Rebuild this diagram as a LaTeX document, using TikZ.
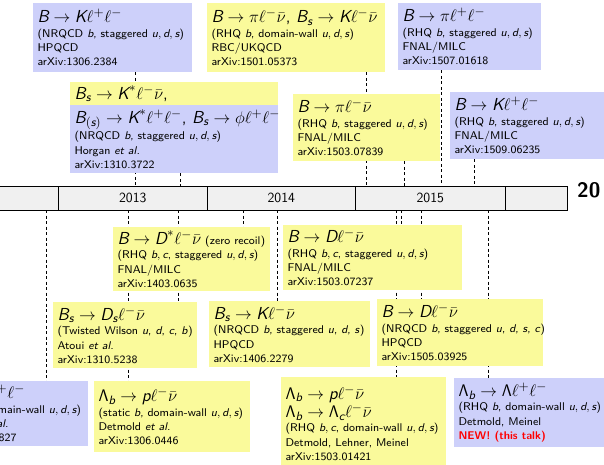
\documentclass[tikz,border=0pt]{standalone}
\usepackage{amsmath}
\usetikzlibrary{backgrounds}
\definecolor{boxblue}{RGB}{205,208,250}
\definecolor{boxyel}{RGB}{250,250,155}
\definecolor{barfill}{RGB}{240,240,240}
\newcommand{\Mi}[1]{\text{\normalfont\sffamily\itshape #1}}
\newcommand{\Tf}{\fontsize{12.4}{14}\selectfont}
\newcommand{\Lam}{\mathsf{\Lambda}}
% box: style, name, x, y, width, height, text
\newcommand{\bx}[7]{%
  \node[#1, minimum width=#5pt, minimum height=#6pt] (#2) at (#3,#4) {};
  \node[txt] (#2t) at ([xshift=4.3pt]#2.west) {#7};}
\begin{document}
\begin{tikzpicture}[x=1pt,y=-1pt,
  box/.style={anchor=north west, inner sep=0pt},
  ybox/.style={box, fill=boxyel},
  bbox/.style={box, fill=boxblue},
  txt/.style={anchor=west, align=left, inner sep=0pt, scale=1.4, transform shape, font=\sffamily\fontsize{8}{10.2}\selectfont},
  yr/.style={anchor=north west, draw=black, line width=0.5pt, fill=barfill, minimum height=24pt, inner sep=0pt, font=\sffamily\fontsize{14}{16}\selectfont},
  tl/.style={draw=black, line width=0.5pt, dash pattern=on 3pt off 2.5pt},
]
\clip (0,0) rectangle (604,465);

% top boxes
\bx{bbox}{box1}{33}{3}{159}{69}
 {{\Tf $\Mi{B}\to\Mi{K}\ell^+\ell^-$}\\(NRQCD \textit{b}, staggered $\Mi{u},\Mi{d},\Mi{s}$)\\HPQCD\\arXiv:1306.2384}
\bx{ybox}{box2}{207}{3}{178}{69}
 {{\Tf $\Mi{B}\to\pi\ell^-\bar\nu$, $\Mi{B}_{\Mi{s}}\to\Mi{K}\ell^-\bar\nu$}\\(RHQ \textit{b}, domain-wall $\Mi{u},\Mi{d},\Mi{s}$)\\RBC/UKQCD\\arXiv:1501.05373}
\bx{bbox}{box3}{398}{3}{143}{67}
 {{\Tf $\Mi{B}\to\pi\ell^+\ell^-$}\\(RHQ \textit{b}, staggered $\Mi{u},\Mi{d},\Mi{s}$)\\FNAL/MILC\\arXiv:1507.01618}
\bx{ybox}{box4a}{70}{82}{208}{23}
 {{\Tf $\Mi{B}_{\Mi{s}}\to\Mi{K}^*\ell^-\bar\nu$,}}
\bx{bbox}{box4b}{70}{105}{208}{68}
 {{\Tf $\Mi{B}_{(\Mi{s})}\to\Mi{K}^*\ell^+\ell^-$, $\Mi{B}_{\Mi{s}}\to\phi\ell^+\ell^-$}\\(NRQCD \textit{b}, staggered $\Mi{u},\Mi{d},\Mi{s}$)\\Horgan \textit{et al.}\\arXiv:1310.3722}
\bx{ybox}{box5}{293}{94}{147}{67}
 {{\Tf $\Mi{B}\to\pi\ell^-\bar\nu$}\\(RHQ \textit{b}, staggered $\Mi{u},\Mi{d},\Mi{s}$)\\FNAL/MILC\\arXiv:1503.07839}
\bx{bbox}{box6}{450}{92}{160}{67}
 {{\Tf $\Mi{B}\to\Mi{K}\ell^+\ell^-$}\\(RHQ \textit{b}, staggered $\Mi{u},\Mi{d},\Mi{s}$)\\FNAL/MILC\\arXiv:1509.06235}

% timeline bar
\node[yr, minimum width=64pt] (y12) at (-6,186) {};
\node[yr, minimum width=149pt] (y13) at (58,186) {2013};
\node[yr, minimum width=148pt] (y14) at (207,186) {2014};
\node[yr, minimum width=150pt] (y15) at (355,186) {2015};
\node[yr, minimum width=62pt] (y16) at (505,186) {};
\node[anchor=west, inner sep=0pt, font=\sffamily\bfseries\fontsize{21}{24}\selectfont] (big) at (577,190) {20};

% bottom boxes
\bx{ybox}{b1}{113}{227}{157}{64}
 {{\Tf $\Mi{B}\to\Mi{D}^*\ell^-\bar\nu$} (zero recoil)\\(RHQ $\Mi{b},\Mi{c}$, staggered $\Mi{u},\Mi{d},\Mi{s}$)\\FNAL/MILC\\arXiv:1403.0635}
\bx{ybox}{b2}{283}{225}{179}{65}
 {{\Tf $\Mi{B}\to\Mi{D}\ell^-\bar\nu$}\\(RHQ $\Mi{b},\Mi{c}$, staggered $\Mi{u},\Mi{d},\Mi{s}$)\\FNAL/MILC\\arXiv:1503.07237}
\bx{ybox}{c1}{53}{302}{144}{66}
 {{\Tf $\Mi{B}_{\Mi{s}}\to\Mi{D}_{\Mi{s}}\ell^-\bar\nu$}\\(Twisted Wilson \textit{u}, \textit{d}, \textit{c}, \textit{b})\\Atoui \textit{et al.}\\arXiv:1310.5238}
\bx{ybox}{c2}{209}{301}{161}{66}
 {{\Tf $\Mi{B}_{\Mi{s}}\to\Mi{K}\ell^-\bar\nu$}\\(NRQCD \textit{b}, staggered \textit{u}, \textit{d}, \textit{s})\\HPQCD\\arXiv:1406.2279}
\bx{ybox}{c3}{377}{299}{166}{67}
 {{\Tf $\Mi{B}\to\Mi{D}\ell^-\bar\nu$}\\(NRQCD \textit{b}, staggered \textit{u}, \textit{d}, \textit{s}, \textit{c})\\HPQCD\\arXiv:1505.03925}
\bx{bbox}{d1}{-68}{381}{156}{65}
 {{\Tf $\Lam_{\Mi{b}}\to\Lam\ell^+\ell^-$}\\(static \textit{b}, domain-wall $\Mi{u},\Mi{d},\Mi{s}$)\\Detmold \textit{et al.}\\arXiv:1212.4827}
\bx{ybox}{d2}{94}{381}{156}{71}
 {{\Tf $\Lam_{\Mi{b}}\to\Mi{p}\ell^-\bar\nu$}\\(static \textit{b}, domain-wall $\Mi{u},\Mi{d},\Mi{s}$)\\Detmold \textit{et al.}\\arXiv:1306.0446}
\bx{ybox}{d3}{281}{377}{165}{92}
 {{\Tf $\Lam_{\Mi{b}}\to\Mi{p}\ell^-\bar\nu$}\\{\Tf $\Lam_{\Mi{b}}\to\Lam_{\Mi{c}}\ell^-\bar\nu$}\\(RHQ $\Mi{b},\Mi{c}$, domain-wall $\Mi{u},\Mi{d},\Mi{s}$)\\Detmold, Lehner, Meinel\\arXiv:1503.01421}
\bx{bbox}{d4}{454}{378}{160}{69}
 {{\Tf $\Lam_{\Mi{b}}\to\Lam\ell^+\ell^-$}\\(RHQ \textit{b}, domain-wall $\Mi{u},\Mi{d},\Mi{s}$)\\Detmold, Meinel\\{\color{red}\bfseries NEW! (this talk)}}

% timeline marks
\foreach \n/\x in {a/135,b/180,c/366,d/404,e/441,f/474}
  \coordinate (t\n) at (\x,186);
\foreach \n/\x in {a/46,b/128,c/178,d/243,e/277,f/396,g/401,h/421,i/488}
  \coordinate (u\n) at (\x,210);

\begin{scope}[on background layer]
\draw[tl] (box1.south -| ta) -- (ta);
\draw[tl] (box4b.south -| tb) -- (tb);
\draw[tl] (box2.south -| tc) -- (tc);
\draw[tl] (box5.south -| td) -- (td);
\draw[tl] (box3.south -| te) -- (te);
\draw[tl] (box6.south -| tf) -- (tf);
\draw[tl] (ua) -- (ua |- d1.north);
\draw[tl] (ub) -- (ub |- d2.north);
\draw[tl] (uc) -- (uc |- c1.north);
\draw[tl] (ud) -- (ud |- b1.north);
\draw[tl] (ue) -- (ue |- c2.north);
\draw[tl] (uf) -- (uf |- d3.north);
\draw[tl] (ug) -- (ug |- b2.north);
\draw[tl] (uh) -- (uh |- c3.north);
\draw[tl] (ui) -- (ui |- d4.north);
\end{scope}
\end{tikzpicture}
\end{document}
